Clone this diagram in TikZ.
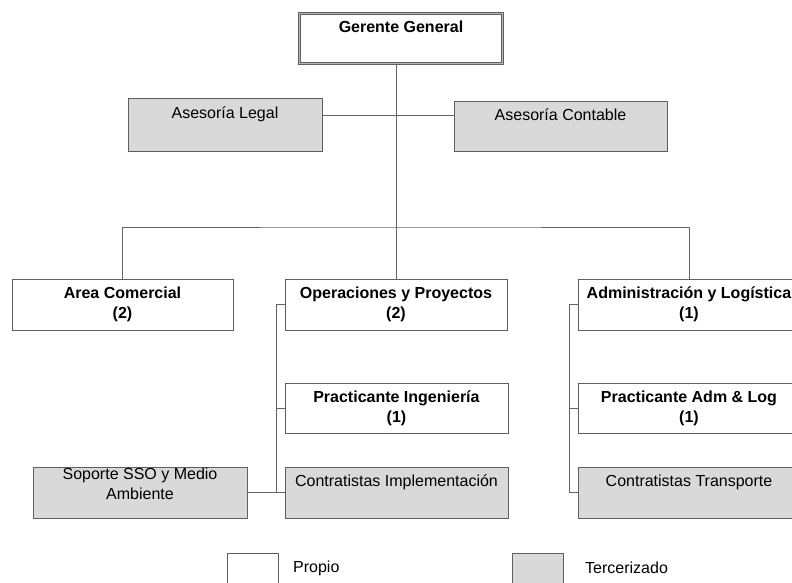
\documentclass[tikz,border=0pt]{standalone}
\usepackage{fontspec}
\setmainfont{Liberation Sans}
\definecolor{boxline}{RGB}{95,95,95}
\definecolor{connline}{RGB}{100,100,100}
\definecolor{extfill}{RGB}{217,217,217}
\begin{document}
\begin{tikzpicture}[x=1pt,y=1pt,
  box/.style={draw=boxline, line width=0.9pt, minimum height=51pt, inner sep=0pt, align=center, font=\fontsize{16}{20}\selectfont},
  own/.style={box, fill=white},
  ext/.style={box, fill=extfill},
  topbox/.style={own, line width=2.4pt, postaction={draw=boxline!45!white, line width=0.8pt}},
  conn/.style={draw=connline, line width=0.9pt},
  legtext/.style={anchor=west, inner sep=0pt, font=\fontsize{16}{20}\selectfont}]
\useasboundingbox (0,0) rectangle (792,-582);
\clip (0,0) rectangle (792,-582);
% top
\node[topbox, minimum width=203pt, minimum height=50pt] (GG) at (401,-38.5) {\textbf{Gerente General}\\\phantom{(1)}};
\node[ext, minimum width=194pt, minimum height=53pt] (AsL) at (225,-124.5) {Asesoría Legal\\\phantom{(1)}};
\node[ext, minimum width=213pt, minimum height=50pt] (AsC) at (560.5,-126) {Asesoría Contable\\\phantom{(1)}};
% second level
\node[own, minimum width=221pt] (AC) at (122.5,-304.5) {\textbf{Area Comercial}\\\textbf{(2)}};
\node[own, minimum width=222pt] (Ops) at (396,-304.5) {\textbf{Operaciones y Proyectos}\\\textbf{(2)}};
\node[own, minimum width=222pt] (AdL) at (689,-304.5) {\textbf{Administración y Logística}\\\textbf{(1)}};
% third level
\node[own, minimum width=223pt, minimum height=50pt] (PI) at (396.5,-408) {\textbf{Practicante Ingeniería}\\\textbf{(1)}};
\node[own, minimum width=222pt, minimum height=50pt] (PA) at (689,-408) {\textbf{Practicante Adm \& Log}\\\textbf{(1)}};
\node[ext, minimum width=223pt] (CI) at (396.5,-492.5) {Contratistas Implementación\\\phantom{(1)}};
\node[ext, minimum width=222pt] (CT) at (689,-492.5) {Contratistas Transporte\\\phantom{(1)}};
\node[ext, minimum width=214pt] (SSO) at (140,-492.5) {Soporte SSO y Medio\\Ambiente\\[-5pt]\phantom{(1)}};
% connectors
\coordinate (bus) at (396,-227);
\coordinate (adv) at (396,-115);
\draw[conn] (Ops.north |- GG.south) -- (Ops.north);
\draw[conn] (AC.north) |- (bus) -| (AdL.north);
\draw[conn] (AsL.east |- adv) -- (AsC.west |- adv);
\draw[conn] (Ops.west) -- ++(-8,0) coordinate (opsl) |- (CI.west);
\draw[conn] (PI.west) -- (PI.west -| opsl);
\draw[conn] (SSO.east) -- (CI.west);
\draw[conn] (AdL.west) -- ++(-8,0) coordinate (adml) |- (CT.west);
\draw[conn] (PA.west) -- (PA.west -| adml);
% legend
\node[own, minimum width=51pt, minimum height=40pt] (LP) at (252.5,-573) {};
\node[legtext] (LPt) at (293,-568) {Propio};
\node[ext, minimum width=51pt, minimum height=40pt] (LT) at (537.5,-573) {};
\node[legtext] (LTt) at (585,-568) {Tercerizado};
\end{tikzpicture}
\end{document}
